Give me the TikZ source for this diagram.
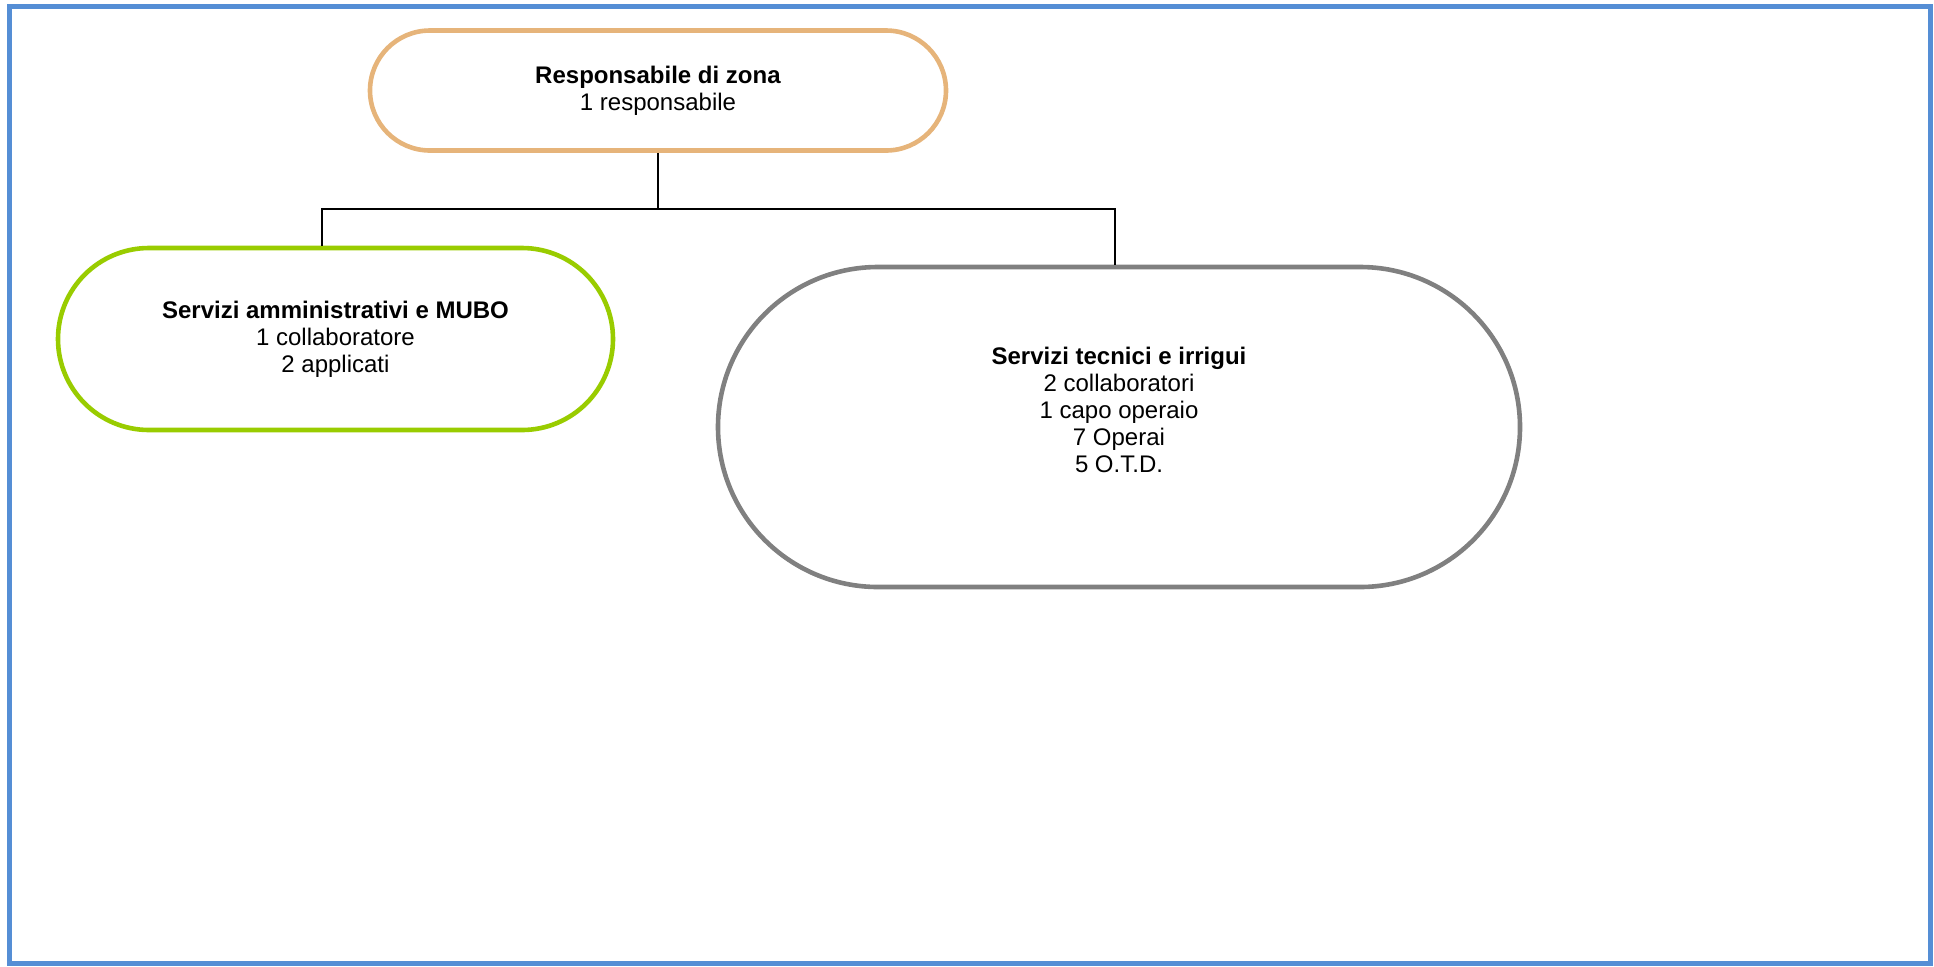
\documentclass[tikz,border=0pt]{standalone}
\usepackage{fontspec}
\setmainfont{Liberation Sans}
\definecolor{bordo}{RGB}{85,142,213}
\definecolor{arancio}{RGB}{230,180,122}
\definecolor{verde}{RGB}{153,204,0}
\definecolor{grigio}{RGB}{128,128,128}
\begin{document}
\begin{tikzpicture}[x=0.5pt,y=-0.5pt,line cap=round,
		ufficio/.style={draw,line width=2.3pt,align=center,inner sep=0pt,
			font=\fontsize{12}{13.5}\selectfont},
		ramo/.style={line width=0.8pt,line cap=butt}]
		\useasboundingbox (0,0) rectangle (1934,966);
		\draw[bordo,line width=2.5pt] (9.5,6.5) rectangle (1930.5,963.5);
		% uffici
		\node[ufficio,draw=arancio,minimum width=288pt,minimum height=60pt,rounded corners=30pt] (zona) at (658,90.5)
			{\textbf{Responsabile di zona}\\1 responsabile};
		\node[ufficio,draw=verde,minimum width=277.5pt,minimum height=91pt,rounded corners=45.5pt] (amm) at (335.5,339)
			{\textbf{Servizi amministrativi e MUBO}\\1 collaboratore\\2 applicati};
		\node[ufficio,draw=grigio,minimum width=401pt,minimum height=160pt,rounded corners=80pt] (tec) at (1119,427)
			{\textbf{Servizi tecnici e irrigui}\\2 collaboratori\\1 capo operaio\\7 Operai\\5 O.T.D.\\\strut};
		% collegamenti
		\coordinate (nodo) at (658,209);
		\draw[ramo] (zona.south) -- (nodo);
		\draw[ramo] (nodo) -| ([xshift=-6.75pt]amm.north);
		\draw[ramo] (nodo) -| ([xshift=-1.9pt]tec.north);
\end{tikzpicture}
\end{document}
